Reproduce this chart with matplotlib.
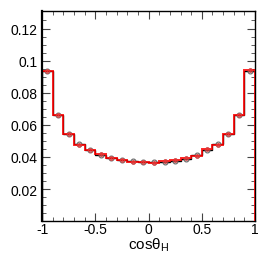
import numpy as np
import matplotlib
matplotlib.use("Agg")
import matplotlib.pyplot as plt

plt.rcParams['font.family'] = ['Liberation Sans', 'DejaVu Sans']
plt.rcParams['mathtext.fontset'] = 'custom'
plt.rcParams['mathtext.rm'] = 'Liberation Sans'

# bin edges of cos(theta_H), 20 bins
edges = [-1.0, -0.9, -0.8, -0.7, -0.6, -0.5, -0.4, -0.3, -0.2, -0.1, 0.0,
         0.1, 0.2, 0.3, 0.4, 0.5, 0.6, 0.7, 0.8, 0.9, 1.0]

# black histogram
black_vals = [0.0935, 0.0658, 0.0543, 0.0478, 0.0445, 0.0413, 0.0395, 0.0379, 0.0372, 0.0368,
              0.0367, 0.0370, 0.0376, 0.0390, 0.0410, 0.0446, 0.0479, 0.0543, 0.0660, 0.0937]
# red histogram
red_vals = [0.0933, 0.0660, 0.0541, 0.0476, 0.0446, 0.0416, 0.0396, 0.0383, 0.0371, 0.0366,
            0.0364, 0.0372, 0.0378, 0.0392, 0.0407, 0.0447, 0.0477, 0.0545, 0.0658, 0.0940]
errs = [0.0006] * 20

xticklabels = ['-1', '-0.5', '0', '0.5', '1']
yticklabels = ['0.02', '0.04', '0.06', '0.08', '0.1', '0.12']

edges = np.array(edges)
centers = 0.5 * (edges[:-1] + edges[1:])

fig = plt.figure(figsize=(2.66, 2.55), dpi=100)
ax = fig.add_axes([0.158, 0.129, 0.801, 0.822])

ax.stairs(black_vals, edges, color='black', lw=1.0, zorder=2)
ax.errorbar(centers, black_vals, yerr=errs, fmt='o', mfc='none', mec='#666666',
            ecolor='#666666', ms=3.5, mew=0.8, elinewidth=0.6, zorder=3)
ax.stairs(red_vals, edges, color='red', lw=1.4, alpha=0.85, zorder=4)
ax.errorbar(centers, red_vals, yerr=errs, fmt='o', mfc='none', mec='#e04040',
            ecolor='#e04040', ms=2.5, mew=0.8, elinewidth=0.6, zorder=5)

ax.set_xlim(-1, 1)
ax.set_ylim(0, 0.1306)
ax.set_xticks([-1, -0.5, 0, 0.5, 1])
ax.set_xticklabels(xticklabels)
ax.set_yticks([0.02, 0.04, 0.06, 0.08, 0.1, 0.12])
ax.set_yticklabels(yticklabels)
ax.set_xticks(np.arange(-1, 1.001, 0.1), minor=True)
ax.set_yticks(np.arange(0, 0.13, 0.005), minor=True)
ax.tick_params(which='both', direction='in', top=True, right=True, labelsize=10,
               color='#444444', pad=3)
ax.tick_params(axis='x', which='both', pad=1)
ax.tick_params(which='major', length=6, width=0.8)
ax.tick_params(which='minor', length=3, width=0.6)
for s in ax.spines.values():
    s.set_linewidth(1.0)
ax.spines['left'].set_linewidth(1.6)
ax.spines['left'].set_zorder(6)

ax.set_xlabel('cosθ$_\\mathrm{H}$', fontsize=11, labelpad=-1)

fig.savefig('out.png', dpi=100)
